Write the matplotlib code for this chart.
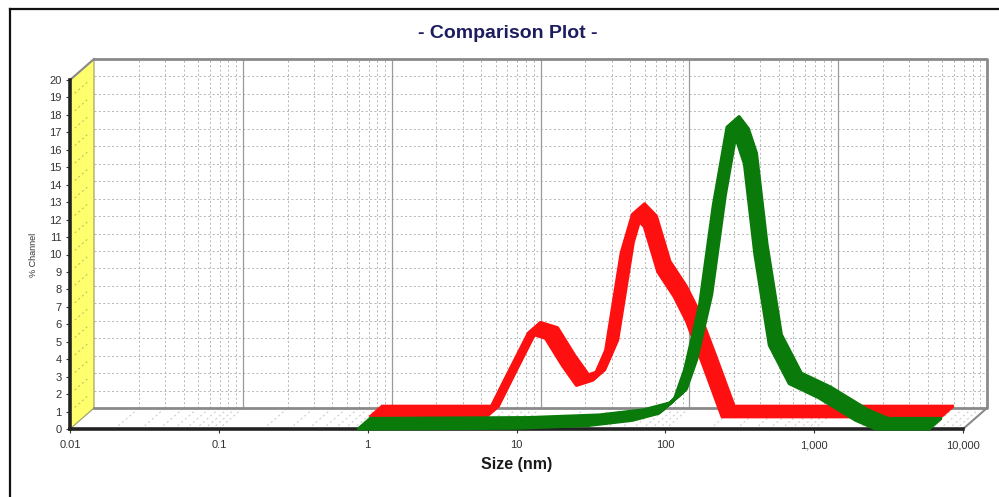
import matplotlib
matplotlib.use("Agg")
import matplotlib.pyplot as plt
import matplotlib.transforms as mtransforms
from matplotlib.patches import Polygon
from matplotlib.lines import Line2D
import numpy as np

# % channel vs size (nm)
red_size = [0.85, 5.2, 7.0, 10.0, 13.0, 17.0, 21.0, 27.0, 33.0, 42.0, 50.0, 60.0, 74.0, 95.0, 115.0, 150.0, 200.0, 6000.0]
red_pct = [0.1, 0.1, 2.3, 4.9, 4.6, 3.0, 1.9, 2.2, 3.9, 9.5, 11.7, 11.0, 8.4, 7.0, 5.6, 3.0, 0.1, 0.1]

green_size = [0.85, 10.0, 30.0, 60.0, 90.0, 115.0, 135.0, 170.0, 210.0, 260.0, 300.0, 340.0, 400.0, 500.0, 680.0, 1070.0, 1900.0, 2600.0, 6000.0]
green_pct = [0.0, 0.05, 0.2, 0.5, 0.9, 1.7, 3.4, 7.1, 12.8, 17.3, 16.6, 15.2, 10.0, 4.8, 2.6, 1.8, 0.5, 0.0, 0.0]

x_ticks = [0.01, 0.1, 1, 10, 100, 1000, 10000]
x_tick_labels = ["0.01", "0.1", "1", "10", "100", "1,000", "10,000"]
y_ticks = list(range(0, 21))

plt.rcParams["font.family"] = ["Liberation Sans", "DejaVu Sans"]

W, H = 999, 497
fig = plt.figure(figsize=(W / 100, H / 100), dpi=100)
ax = fig.add_axes([70 / W, (H - 429) / H, 893 / W, 349 / H])
ax.set_xscale("log")
ax.set_xlim(0.01, 10000)
ax.set_ylim(0, 20)
ax.patch.set_visible(False)
for sp in ax.spines.values():
    sp.set_visible(False)

# depth offset of the back wall, in inches
DX, DY = 0.24, 0.21


def depth(d):
    return ax.transData + mtransforms.ScaledTranslation(DX * d, DY * d, fig.dpi_scale_trans)


def pt(x, y, d):
    return depth(d).transform((x, y))


ident = mtransforms.IdentityTransform()


def seg(x0, y0, d0, x1, y1, d1, **kw):
    p0, p1 = pt(x0, y0, d0), pt(x1, y1, d1)
    ax.add_line(Line2D([p0[0], p1[0]], [p0[1], p1[1]], transform=ident, clip_on=False, **kw))


xmin, xmax = 0.01, 10000
minor = [m * 10.0 ** e for e in range(-2, 4) for m in range(2, 10)]
grid_col = "#b4b4b4"
dash = (0, (2, 2.5))

# back wall grid
for v in range(1, 20):
    ax.plot([xmin, xmax], [v, v], color=grid_col, lw=0.7, ls=dash,
            transform=depth(1), clip_on=False, zorder=1)
for m in minor:
    ax.plot([m, m], [0, 20], color=grid_col, lw=0.7, ls=dash,
            transform=depth(1), clip_on=False, zorder=1)
for t in x_ticks[1:-1]:
    ax.plot([t, t], [0, 20], color="#9a9a9a", lw=0.9, transform=depth(1), clip_on=False, zorder=1)
# back wall border
ax.plot([xmin, xmax, xmax, xmin], [20, 20, 0, 0], color="#8a8a8a", lw=2.0,
        transform=depth(1), clip_on=False, zorder=1.5)

# floor diagonals
for m in minor + x_ticks[1:-1]:
    seg(m, 0, 0, m, 0, 1, color="#c4c4c4", lw=0.7, ls=(0, (2, 3)), zorder=1)
seg(xmax, 0, 0, xmax, 0, 1, color="#8a8a8a", lw=1.5, zorder=1.5)

# yellow left wall
wall = Polygon([pt(xmin, 0, 0), pt(xmin, 20, 0), pt(xmin, 20, 1), pt(xmin, 0, 1)],
               closed=True, facecolor="#ffff6e", edgecolor="#9a9a60", lw=0.8,
               transform=ident, clip_on=False, zorder=1.2)
ax.add_patch(wall)
for v in range(1, 20):
    seg(xmin, v, 0.2, xmin, v, 0.8, color="#b8b860", lw=0.7, ls=(0, (2, 3)), zorder=1.3)
seg(xmin, 20, 0, xmin, 20, 1, color="#8a8a8a", lw=1.5, zorder=1.5)

# front edges
ax.plot([xmin, xmax], [0, 0], color="#222222", lw=2.6, transform=depth(0), clip_on=False, zorder=2)
ax.plot([xmin, xmin], [0, 20], color="#222222", lw=2.6, transform=depth(0), clip_on=False, zorder=2)

# ribbons: red in the back half, green in the front half
for d in np.linspace(0.5, 1.0, 14):
    ax.plot(red_size, red_pct, color="#ff1010", lw=2.3, solid_joinstyle="round",
            solid_capstyle="butt", transform=depth(d), clip_on=False, zorder=3)
for d in np.linspace(0.0, 0.5, 14):
    ax.plot(green_size, green_pct, color="#0a7a0a", lw=2.3, solid_joinstyle="round",
            solid_capstyle="butt", transform=depth(d), clip_on=False, zorder=4)

# ticks and labels
ax.set_xticks(x_ticks)
ax.set_xticklabels(x_tick_labels)
ax.xaxis.set_minor_locator(matplotlib.ticker.NullLocator())
ax.set_yticks(y_ticks)
ax.tick_params(axis="both", length=3, width=0.8, color="#333333", labelsize=8,
               labelcolor="#333333", pad=3)
ax.tick_params(axis="x", pad=5)
ax.set_xlabel("Size (nm)", fontsize=11.5, fontweight="bold", color="#1a1a1a", labelpad=5)
ax.set_ylabel("% Channel", fontsize=6.5, color="#333333", labelpad=8)

fig.text(508 / W, 1 - 34 / H, "- Comparison Plot -", ha="center", va="center",
         fontsize=14, fontweight="bold", color="#1c1c5e")

# outer frame
fig.add_artist(Line2D([10 / W, 1], [1 - 9 / H, 1 - 9 / H], transform=fig.transFigure, color="#111111", lw=1.6))
fig.add_artist(Line2D([10 / W, 10 / W], [0, 1 - 9 / H], transform=fig.transFigure, color="#111111", lw=1.6))

fig.savefig("out.png", dpi=100)
